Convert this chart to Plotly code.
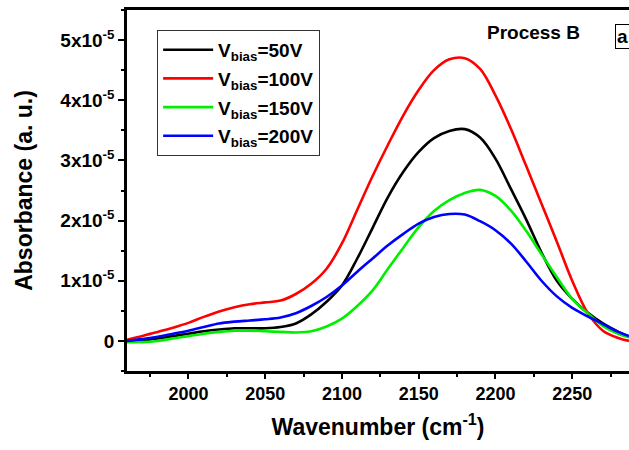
import plotly.graph_objects as go

# Wavenumber grid (cm^-1) shared by all spectra
wavenumber = [1960, 1970, 1980, 1990, 2000, 2010, 2020, 2030, 2040, 2050,
              2060, 2070, 2080, 2090, 2100, 2110, 2120, 2130, 2140, 2150,
              2160, 2170, 2180, 2190, 2200, 2210, 2220, 2230, 2240, 2250,
              2260, 2270, 2280, 2287]

# Absorbance in units of 1e-5
abs_50v = [0.00, 0.01, 0.04, 0.08, 0.12, 0.16, 0.19, 0.21, 0.21, 0.21,
           0.23, 0.29, 0.44, 0.65, 0.92, 1.37, 1.88, 2.39, 2.81, 3.14,
           3.37, 3.49, 3.52, 3.38, 3.03, 2.53, 2.02, 1.47, 1.00, 0.70,
           0.47, 0.29, 0.15, 0.07]
abs_100v = [0.02, 0.08, 0.15, 0.22, 0.30, 0.40, 0.49, 0.56, 0.61, 0.64,
            0.67, 0.78, 0.95, 1.20, 1.62, 2.18, 2.74, 3.26, 3.75, 4.17,
            4.50, 4.68, 4.70, 4.52, 4.08, 3.53, 2.91, 2.28, 1.65, 1.00,
            0.47, 0.17, 0.05, 0.00]
abs_150v = [-0.02, -0.02, 0.00, 0.04, 0.08, 0.12, 0.15, 0.17, 0.17, 0.16,
            0.15, 0.14, 0.16, 0.24, 0.37, 0.58, 0.84, 1.20, 1.55, 1.89,
            2.16, 2.34, 2.46, 2.51, 2.41, 2.17, 1.83, 1.44, 1.06, 0.70,
            0.46, 0.25, 0.12, 0.06]
abs_200v = [0.00, 0.03, 0.07, 0.12, 0.17, 0.23, 0.29, 0.32, 0.34, 0.36,
            0.39, 0.46, 0.58, 0.73, 0.92, 1.15, 1.37, 1.59, 1.78, 1.95,
            2.06, 2.11, 2.10, 1.99, 1.84, 1.62, 1.32, 1.00, 0.74, 0.55,
            0.41, 0.28, 0.15, 0.08]

series = [
    ("V<sub>bias</sub>=50V", abs_50v, "#000000"),
    ("V<sub>bias</sub>=100V", abs_100v, "#ff0000"),
    ("V<sub>bias</sub>=150V", abs_150v, "#00ee00"),
    ("V<sub>bias</sub>=200V", abs_200v, "#0000ff"),
]

y_tick_vals = [0, 1e-5, 2e-5, 3e-5, 4e-5, 5e-5]
y_tick_text = ["0", "1x10<sup>-5</sup>", "2x10<sup>-5</sup>", "3x10<sup>-5</sup>",
               "4x10<sup>-5</sup>", "5x10<sup>-5</sup>"]
x_tick_vals = [2000, 2050, 2100, 2150, 2200, 2250]

FONT = "Liberation Sans, Arial, sans-serif"

fig = go.Figure()
for i, (name, vals, color) in enumerate(series):
    fig.add_trace(go.Scatter(
        x=wavenumber,
        y=[v * 1e-5 for v in vals],
        mode="lines",
        name=name,
        legendgroup=f"g{i}",
        line=dict(color=color, width=2.6, shape="spline", smoothing=1.0),
    ))

fig.update_layout(
    width=629, height=450,
    margin=dict(l=127, r=0, t=10, b=79),
    paper_bgcolor="white", plot_bgcolor="white",
    font=dict(family=FONT, size=18, color="black", weight="bold"),
    showlegend=True,
    legend=dict(
        x=0.06, y=0.945, xanchor="left", yanchor="top",
        bordercolor="#333333", borderwidth=1,
        bgcolor="white",
        itemwidth=50,
        font=dict(family=FONT, size=19, color="black", weight="bold"),
        tracegroupgap=1,
    ),
    annotations=[
        dict(text="Process B", xref="paper", yref="paper", x=0.809, y=0.939,
             xanchor="center", yanchor="middle", showarrow=False,
             font=dict(family=FONT, size=19, weight="bold")),
        dict(text="a", xref="paper", yref="paper", x=0.972, y=0.927,
             xanchor="left", yanchor="middle", showarrow=False,
             bordercolor="black", borderwidth=1, borderpad=1,
             font=dict(family=FONT, size=19, weight="bold")),
    ],
)

fig.update_xaxes(
    range=[1960, 2287],
    tickmode="array", tickvals=x_tick_vals,
    ticks="outside", ticklen=5, tickwidth=2, tickcolor="black",
    showline=True, linewidth=2.5, linecolor="black", mirror=True,
    showgrid=False, zeroline=False,
    minor=dict(tickmode="linear", tick0=1975, dtick=50, ticks="outside",
               ticklen=3, tickwidth=2, tickcolor="black", showgrid=False),
    tickfont=dict(family=FONT, size=18, weight="bold"),
    title=dict(text="Wavenumber (cm<sup>-1</sup>)", standoff=16,
               font=dict(family=FONT, size=23, weight="bold")),
)

fig.update_yaxes(
    range=[-0.5e-5, 5.5e-5],
    tickmode="array", tickvals=y_tick_vals, ticktext=y_tick_text,
    ticks="outside", ticklen=6, tickwidth=2, tickcolor="black",
    showline=True, linewidth=2.5, linecolor="black", mirror=False,
    showgrid=False, zeroline=False,
    minor=dict(tickmode="linear", tick0=-0.5e-5, dtick=1e-5, ticks="outside",
               ticklen=3, tickwidth=2, tickcolor="black", showgrid=False),
    tickfont=dict(family=FONT, size=19, weight="bold"),
    title=dict(text="Absorbance (a. u.)", standoff=22,
               font=dict(family=FONT, size=23, weight="bold")),
)

fig.write_html("out.html")
